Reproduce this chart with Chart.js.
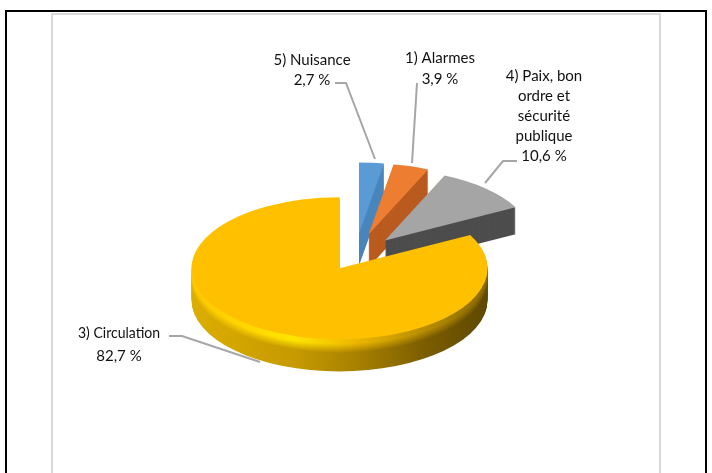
<!DOCTYPE html>
<html>
<head>
<meta charset="utf-8">
<script src="https://cdn.jsdelivr.net/npm/chart.js@4"></script>
<style>
body { margin: 0; background: #fff; overflow: hidden; }
.line { position: absolute; }
#chart { position: absolute; left: 0; top: 0; }
</style>
</head>
<body>
<div class="line" style="left:5px;top:10px;width:702px;height:2px;background:#000"></div>
<div class="line" style="left:5px;top:10px;width:2px;height:463px;background:#000"></div>
<div class="line" style="left:705px;top:10px;width:2px;height:463px;background:#000"></div>
<div class="line" style="left:51px;top:13px;width:610px;height:2px;background:#d9d9d9"></div>
<div class="line" style="left:51px;top:13px;width:2px;height:460px;background:#d9d9d9"></div>
<div class="line" style="left:659px;top:13px;width:2px;height:460px;background:#d9d9d9"></div>
<canvas id="chart" width="712" height="473"></canvas>
<script>
// going clockwise from 12 o'clock
const categories = ['5) Nuisance', '1) Alarmes', '4) Paix, bon ordre et sécurité publique', '3) Circulation'];
const shares = [2.7, 3.9, 10.6, 82.7];
const percentLabels = ['2,7 %', '3,9 %', '10,6 %', '82,7 %'];
const topColors = ['#5b9bd5', '#ed7d31', '#a5a5a5', '#ffc000'];
const wallColors = ['#4a86bd', '#b95a1f', '#4d4d4d', null];
const explode = [47, 47, 44, 30];
const depths = [32, 33, 27, 32];

const tilt = 0.48;

// yellow wall, bright band under the top face fading into the darker side
const wallStops = [0, 0.35, 0.55, 0.8, 1];
const rimShades = [[255, 200, 0], [255, 228, 0], [238, 184, 0], [181, 139, 0], [138, 106, 0]];
const sideShades = [[220, 174, 0], [199, 154, 0], [169, 130, 0], [122, 92, 0], [95, 72, 0]];

// text lines and leader lines for each slice, same order as categories
const labelLines = [
    ['5) Nuisance'],
    ['1) Alarmes'],
    ['4) Paix, bon', 'ordre et', 'sécurité', 'publique'],
    ['3) Circulation']
];
const labelBoxes = [
    { x: 312, y: 60, step: 20, fit: 78 },
    { x: 440, y: 58, step: 21, fit: 72 },
    { x: 544, y: 76, step: 20, fit: 81 },
    { x: 119, y: 333, step: 23, fit: 82 }
];
const leaders = [
    [[335, 83], [346, 83], [375, 159]],
    [[417, 83], [412, 163]],
    [[517, 161], [503, 161], [485, 183]],
    [[169, 336], [182, 336], [260, 362]]
];

function applyTilt(ctx, arc, i, dy) {
    const mid = (arc.startAngle + arc.endAngle) / 2;
    ctx.translate(0, dy);
    ctx.translate(arc.x, arc.y);
    ctx.scale(1, tilt);
    ctx.translate(-arc.x, -arc.y);
    ctx.translate(Math.cos(mid) * explode[i], Math.sin(mid) * explode[i]);
}

function slicePath(ctx, arc, i, dy) {
    ctx.save();
    applyTilt(ctx, arc, i, dy);
    ctx.beginPath();
    ctx.moveTo(arc.x, arc.y);
    ctx.arc(arc.x, arc.y, arc.outerRadius, arc.startAngle, arc.endAngle);
    ctx.closePath();
    ctx.restore();
}

function yellowWall(ctx, x0, x1, dy) {
    const t = Math.min(1, Math.max(0, (dy - 5) / 9));
    const g = ctx.createLinearGradient(x0, 0, x1, 0);
    wallStops.forEach(function (s, n) {
        const c = rimShades[n].map(function (v, k) {
            return Math.round(v + (sideShades[n][k] - v) * t);
        });
        g.addColorStop(s, 'rgb(' + c.join(',') + ')');
    });
    return g;
}

const pie3d = {
    id: 'pie3d',
    beforeDatasetsDraw(chart) {
        const ctx = chart.ctx;
        const arcs = chart.getDatasetMeta(0).data;
        arcs.forEach(function (arc, i) {
            const left = arc.x - arc.outerRadius - 16;
            const right = arc.x + arc.outerRadius - 16;
            for (let dy = depths[i]; dy >= 1; dy--) {
                slicePath(ctx, arc, i, dy);
                ctx.fillStyle = wallColors[i] || yellowWall(ctx, left, right, dy);
                ctx.fill();
            }
            ctx.save();
            applyTilt(ctx, arc, i, 0);
            arc.draw(ctx);
            ctx.restore();
        });
        return false;
    },
    afterDraw(chart) {
        const ctx = chart.ctx;
        ctx.save();
        ctx.strokeStyle = '#a6a6a6';
        ctx.lineWidth = 2;
        leaders.forEach(function (pts) {
            ctx.beginPath();
            pts.forEach(function (p, n) {
                if (n === 0) ctx.moveTo(p[0], p[1]); else ctx.lineTo(p[0], p[1]);
            });
            ctx.stroke();
        });
        ctx.fillStyle = '#111';
        ctx.font = '15px Lato';
        ctx.textAlign = 'center';
        ctx.textBaseline = 'middle';
        labelLines.forEach(function (lines, i) {
            const box = labelBoxes[i];
            lines.concat(percentLabels[i]).forEach(function (t, n) {
                ctx.fillText(t, box.x, box.y + n * box.step, box.fit);
            });
        });
        ctx.restore();
    }
};

new Chart(document.getElementById('chart').getContext('2d'), {
    type: 'pie',
    data: {
        labels: categories,
        datasets: [{
            data: shares,
            backgroundColor: topColors,
            borderWidth: 0,
            radius: 148
        }]
    },
    options: {
        responsive: false,
        animation: false,
        layout: { padding: { left: 0, right: 2, top: 39, bottom: 0 } },
        plugins: {
            legend: { display: false },
            tooltip: { enabled: false }
        }
    },
    plugins: [pie3d]
});
</script>
</body>
</html>
